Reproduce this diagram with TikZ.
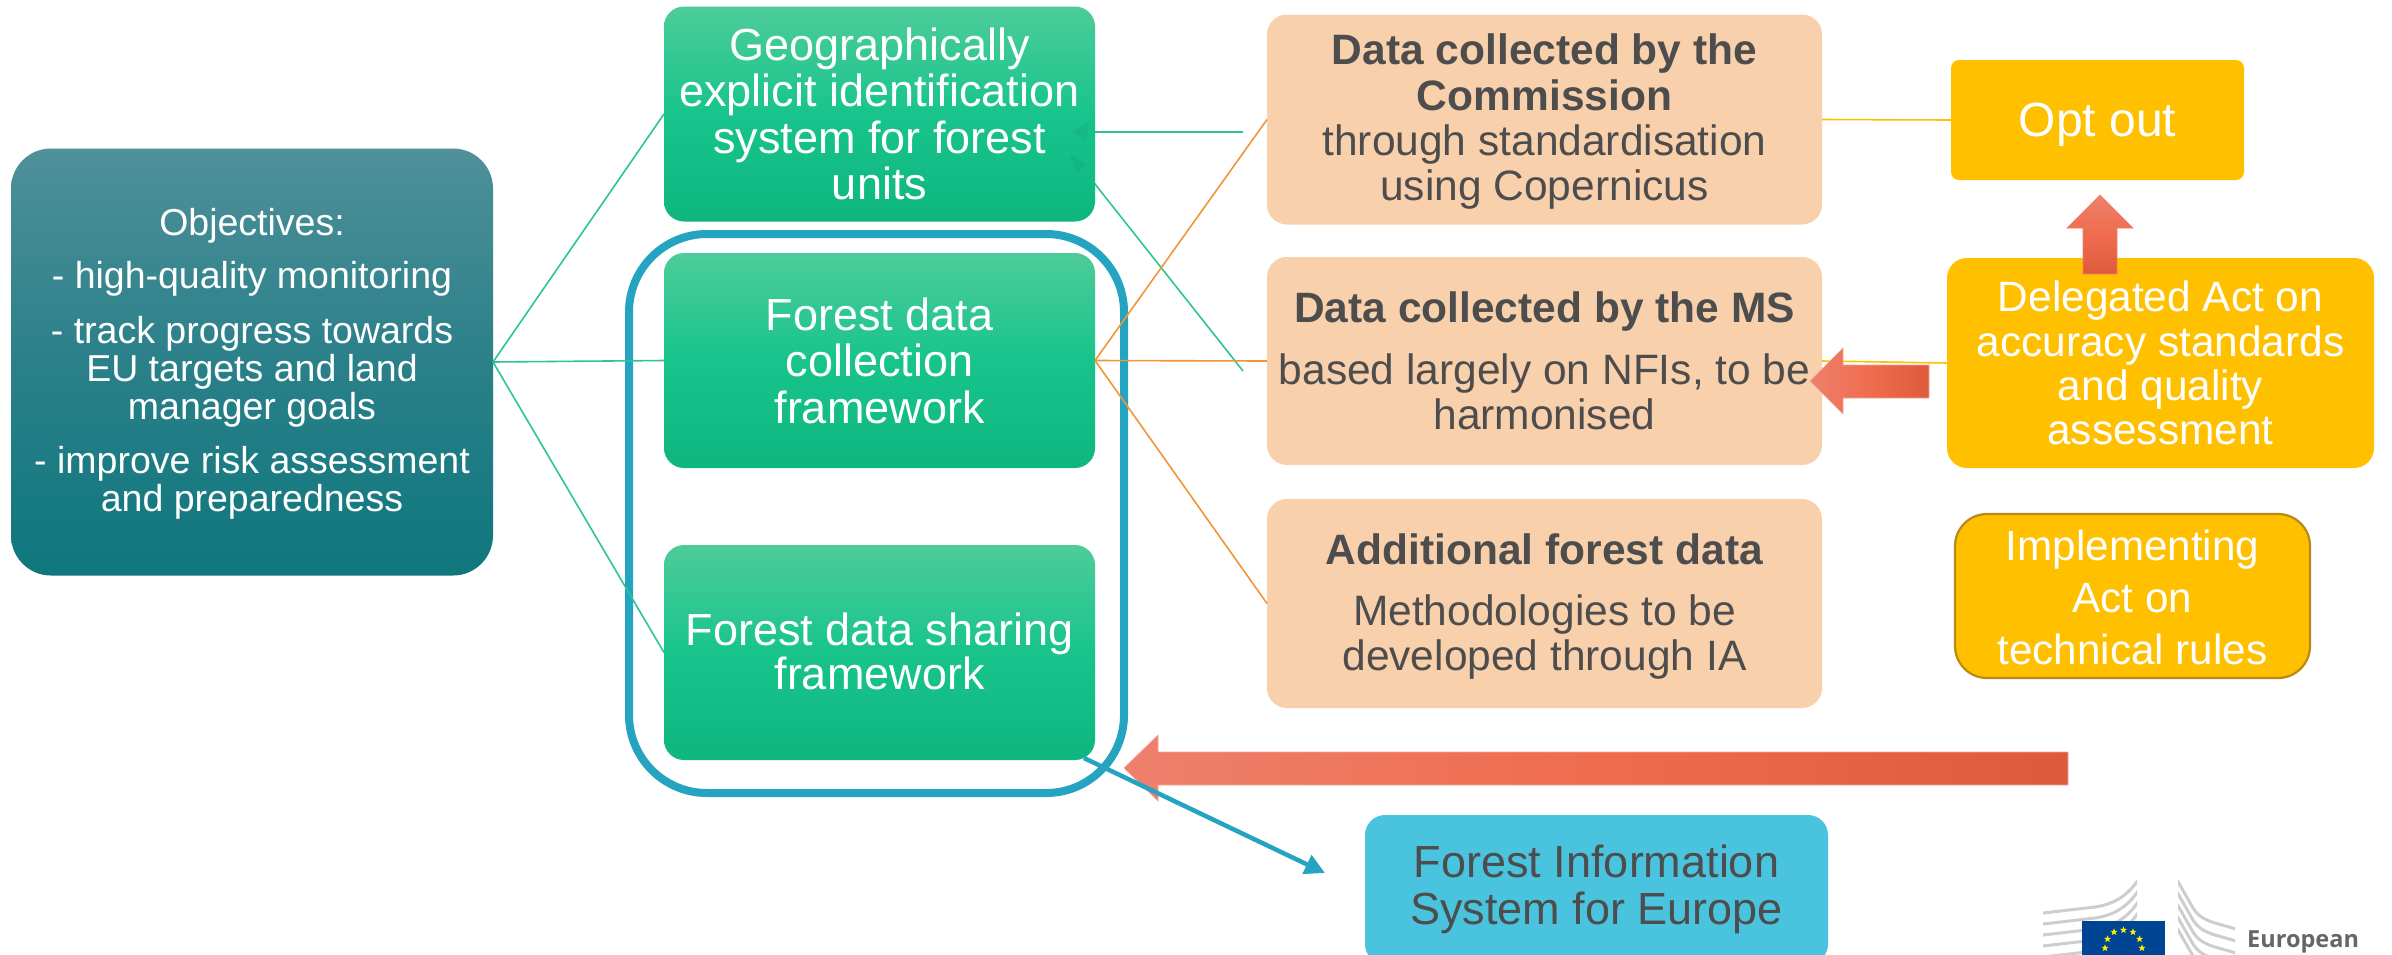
\documentclass[tikz,border=0pt]{standalone}
\usepackage{fontspec}
\setmainfont{Liberation Sans}
\newfontfamily\logofont{Open Sans}
\usetikzlibrary{shapes.geometric,arrows.meta}
\newcommand\nudgedown[1]{\rule{0pt}{\dimexpr 0.74em+#1\relax}}
\newcommand\nudgeup[1]{\\[\dimexpr #1-\baselineskip\relax]\mbox{}}
\definecolor{txtgrey}{HTML}{4D4D4D}
\definecolor{peach}{HTML}{F8D0AC}
\definecolor{gold}{HTML}{FFC000}
\definecolor{goldline}{HTML}{B98A14}
\definecolor{sky}{HTML}{4AC3DF}
\definecolor{ringblue}{HTML}{24A4C0}
\definecolor{orangeline}{HTML}{F0953A}
\definecolor{greenline}{HTML}{2CC598}
\definecolor{greentop}{HTML}{4DCC9A}
\definecolor{greenmid}{HTML}{18C48C}
\definecolor{greenbot}{HTML}{0FB67F}
\definecolor{tealtop}{HTML}{4F9099}
\definecolor{tealmid}{HTML}{2A8089}
\definecolor{tealbot}{HTML}{0F777D}
\definecolor{redlight}{HTML}{EE806C}
\definecolor{redmid}{HTML}{EF6C4E}
\definecolor{reddark}{HTML}{DD5A3A}
\definecolor{logogrey}{HTML}{CDCDCD}
\definecolor{logotext}{HTML}{666666}
\definecolor{flagblue}{HTML}{004494}
\definecolor{staryellow}{HTML}{FFED00}
\tikzset{
  basebox/.style={rectangle,inner sep=0pt,outer sep=0pt,align=center,rounded corners=20pt},
  objbox/.style={basebox,rounded corners=40pt,top color=tealtop,bottom color=tealbot,middle color=tealmid,text=white,minimum width=482pt,minimum height=427pt,font=\fontsize{37.5}{38}\selectfont},
  greenbox/.style={basebox,top color=greentop,bottom color=greenbot,middle color=greenmid,text=white,minimum width=431pt,minimum height=215pt,font=\fontsize{45}{46.5}\selectfont},
  peachbox/.style={basebox,fill=peach,text=txtgrey,minimum width=555pt,font=\fontsize{42.5}{45}\selectfont},
  goldbox/.style={basebox,fill=gold,text=white},
  skybox/.style={basebox,fill=sky,text=txtgrey,font=\fontsize{45}{47}\selectfont},
  greenlink/.style={draw=greenline,line width=1.6pt},
  orangelink/.style={draw=orangeline,line width=1.6pt},
  goldlink/.style={draw=gold,line width=1.6pt},
  ringshape/.style={draw=ringblue,line width=8pt,rounded corners=78pt},
  blockh/.style={left color=redlight,right color=reddark,middle color=redmid,draw=redlight!70!white,line width=.6pt},
  blockv/.style={top color=redlight,bottom color=reddark,middle color=redmid,draw=redlight,line width=.6pt},
  logocurve/.style={draw=logogrey,line width=3pt},
  eustar/.style={star,star points=5,star point ratio=2.4,fill=staryellow,inner sep=0pt,minimum size=7.5pt},
}
\begin{document}
\begin{tikzpicture}[x=1pt,y=-1pt]
\useasboundingbox (0,0) rectangle (2392,954);
\clip (0,0) rectangle (2392,954);
\fill[white] (0,0) rectangle (2392,954);

\coordinate (gfreeA) at (1243,132);
\coordinate (gfreeB) at (1243,371);
\coordinate (gstartA) at (1072,132);
\coordinate (gstartB) at (1072,155);

% ring sits below the connector lines
\draw[ringshape] (629,234) rectangle (1124,793);

\node[objbox]   (obj) at (252,362) {\nudgedown{4pt}Objectives:\\[15pt]- high-quality monitoring\\[17pt]- track progress towards\\EU targets and land\\manager goals\\[16pt]- improve risk assessment\\and preparedness};

\draw[greenlink] (gstartA) -- (gfreeA);
\draw[greenlink] (gstartB) -- (gfreeB);

\node[greenbox] (g1) at (879.5,114) {Geographically\\explicit identification\\system for forest\\units};
\node[greenbox] (g2) at (879.5,360.5) {Forest data\\collection\\framework};
\node[greenbox] (g3) at (879.5,652.5) {Forest data sharing\\[-2pt]framework\nudgeup{3pt}};

\fill[black!60!greenmid,opacity=.07] (1072,132) -- (1089,122) -- (1086,141) -- cycle;
\fill[black!60!greenmid,opacity=.07] (1069,154) -- (1086,164) -- (1077,174) -- cycle;

\node[peachbox,minimum height=210pt] (p1) at (1544.5,119.5) {\nudgedown{4pt}\textbf{Data collected by the}\\[1pt]\textbf{Commission}\\through standardisation\\using Copernicus};
\node[peachbox,minimum height=208pt] (p2) at (1544.5,361) {\textbf{Data collected by the MS}\\[17pt]based largely on NFIs, to be\\harmonised};
\node[peachbox,minimum height=209pt] (p3) at (1544.5,603.5) {\nudgedown{6pt}\textbf{Additional forest data}\\[16pt]Methodologies to be\\developed through IA};

\node[goldbox,minimum width=293pt,minimum height=120pt,rounded corners=8pt,font=\fontsize{48}{50}\selectfont] (opt) at (2097.5,120) {\nudgedown{8pt}Opt out};
\node[goldbox,minimum width=427pt,minimum height=210pt,font=\fontsize{42.4}{44.3}\selectfont] (del) at (2160.5,363) {Delegated Act on\\accuracy standards\\and quality\\assessment};
\node[goldbox,draw=goldline,line width=2.2pt,minimum width=355pt,minimum height=164pt,rounded corners=32pt,font=\fontsize{42.2}{52}\selectfont] (imp) at (2132.5,596) {\nudgedown{3pt}Implementing\\Act on\\technical rules};
\node[skybox,minimum width=463pt,minimum height=149pt,anchor=north west] (fise) at (1365,815) {Forest Information\\System for Europe};

\draw[greenlink] (obj.east) -- (g1.west);
\draw[greenlink] (obj.east) -- (g2.west);
\draw[greenlink] (obj.east) -- (g3.west);
\draw[orangelink] (g2.east) -- (p1.west);
\draw[orangelink] (g2.east) -- (p2.west);
\draw[orangelink] (g2.east) -- (p3.west);
\draw[goldlink] (p1.east) -- (opt.west);
\draw[goldlink] (p2.east) -- (del.west);

% block arrows
\shade[blockh] (1124,768) -- (1158,735) -- (1158,752) -- (2068,752) -- (2068,785) -- (1158,785) -- (1158,801) -- cycle;
\shade[blockh] (1810,381) -- (1843,348) -- (1843,365) -- (1929,365) -- (1929,398) -- (1843,398) -- (1843,414) -- cycle;
\shade[blockv] (2100,195) -- (2133,228) -- (2117,228) -- (2117,274) -- (2083,274) -- (2083,228) -- (2067,228) -- cycle;

\coordinate (blueend) at (1325,873);
\coordinate (bluestart) at (1084,758);
\draw[ringblue,line width=4.5pt,-{Triangle[length=20pt,width=20pt]}] (bluestart) -- (blueend);

% logo
\begin{scope}
\clip (2043,880) rectangle (2137,960);
\foreach \d in {0,11,22,33,44,55}
  \draw[logocurve] (2043,{913+\d}) -- (2095,{907+\d}) .. controls (2115,{904+\d}) and (2128,{895+\d}) .. (2138,{880+\d});
\end{scope}
\begin{scope}
\clip (2178,880) rectangle (2235,960);
\foreach \d in {0,12,24,36,48}
  \draw[logocurve] (2177,{880+\d}) -- (2193,{908+\d}) .. controls (2198,{916+\d}) and (2205,{920+\d}) .. (2215,{923+\d}) -- (2236,{929+\d});
\end{scope}
\fill[flagblue] (2082,921) rectangle (2165,960);
\foreach \px/\py [count=\i] in {2123.5/930,2114/932,2133/932,2107.5/939,2139.5/939,2105/948,2142/948}
  \node[eustar] (s\i) at (\px,\py) {};
\node[anchor=base west,inner sep=0pt,text=logotext,font=\logofont\bfseries\fontsize{23.5}{26}\selectfont] (eu) at (2247,947) {European};
\end{tikzpicture}
\end{document}
